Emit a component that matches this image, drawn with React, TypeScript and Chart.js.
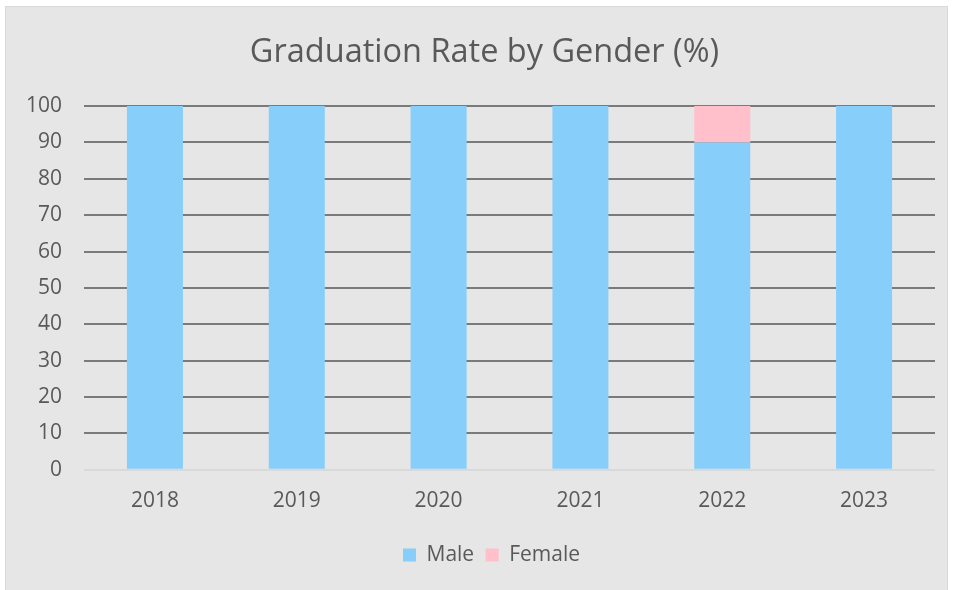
import React, { useEffect, useRef } from "react";
import { Chart, registerables } from "chart.js";

Chart.register(...registerables);

const years = ["2018", "2019", "2020", "2021", "2022", "2023"];
const maleValues = [100, 100, 100, 100, 90, 100];
const femaleValues = [0, 0, 0, 0, 10, 0];
const yTicks = [0, 10, 20, 30, 40, 50, 60, 70, 80, 90, 100];

const FONT = "'Open Sans', 'Liberation Sans', sans-serif";
const TEXT = "#595959";

const boxShift = {
  id: "boxShift",
  afterLayout(chart: any) {
    if (chart.legend) {
      chart.legend.left += 22;
      chart.legend.right += 22;
    }
    if (chart.titleBlock) {
      chart.titleBlock.left += 15;
      chart.titleBlock.right += 15;
    }
  },
};

export default function App() {
  const ref = useRef<HTMLCanvasElement | null>(null);

  useEffect(() => {
    document.body.style.margin = "0";
    const chart = new Chart(ref.current as HTMLCanvasElement, {
      type: "bar",
      data: {
        labels: years,
        datasets: [
          {
            label: "Male",
            data: maleValues,
            backgroundColor: "#87CEFA",
            borderWidth: 0,
            barPercentage: 0.395,
            categoryPercentage: 1,
          },
          {
            label: "Female",
            data: femaleValues,
            backgroundColor: "#FFC0CB",
            borderWidth: 0,
            barPercentage: 0.395,
            categoryPercentage: 1,
          },
        ],
      },
      plugins: [boxShift],
      options: {
        animation: false,
        responsive: true,
        maintainAspectRatio: false,
        layout: { padding: { left: -2, right: 12, top: 0, bottom: 19.5 } },
        plugins: {
          title: {
            display: true,
            text: "Graduation Rate by Gender (%)",
            color: TEXT,
            font: { family: FONT, size: 32.5, weight: "normal" },
            padding: { top: 26, bottom: 34 },
          },
          legend: {
            position: "bottom",
            labels: {
              color: TEXT,
              font: { family: FONT, size: 21 },
              boxWidth: 13,
              boxHeight: 13,
              padding: 11.5,
            },
          },
          tooltip: { enabled: false },
        },
        scales: {
          x: {
            stacked: true,
            grid: { display: false, drawTicks: false },
            border: { display: false },
            ticks: { color: TEXT, font: { family: FONT, size: 21 }, padding: 19 },
          },
          y: {
            stacked: true,
            min: 0,
            max: 100,
            afterBuildTicks: (axis: any) => {
              axis.ticks = yTicks.map((v) => ({ value: v }));
            },
            grid: {
              drawTicks: false,
              lineWidth: 2,
              color: (ctx: any) => (ctx.tick && ctx.tick.value === 0 ? "#d9d9d9" : "#7a7a7a"),
            },
            border: { display: false },
            ticks: { color: TEXT, font: { family: FONT, size: 21 }, padding: 22 },
          },
        },
      },
    });
    return () => chart.destroy();
  }, []);

  return (
    <div style={{ position: "relative", width: 954, height: 590, background: "#fff", overflow: "hidden" }}>
      <div
        style={{
          position: "absolute",
          left: 5,
          top: 6,
          width: 941,
          height: 588,
          background: "#e6e6e6",
          border: "1px solid #d9d9d9",
        }}
      >
        <canvas ref={ref} />
      </div>
    </div>
  );
}
